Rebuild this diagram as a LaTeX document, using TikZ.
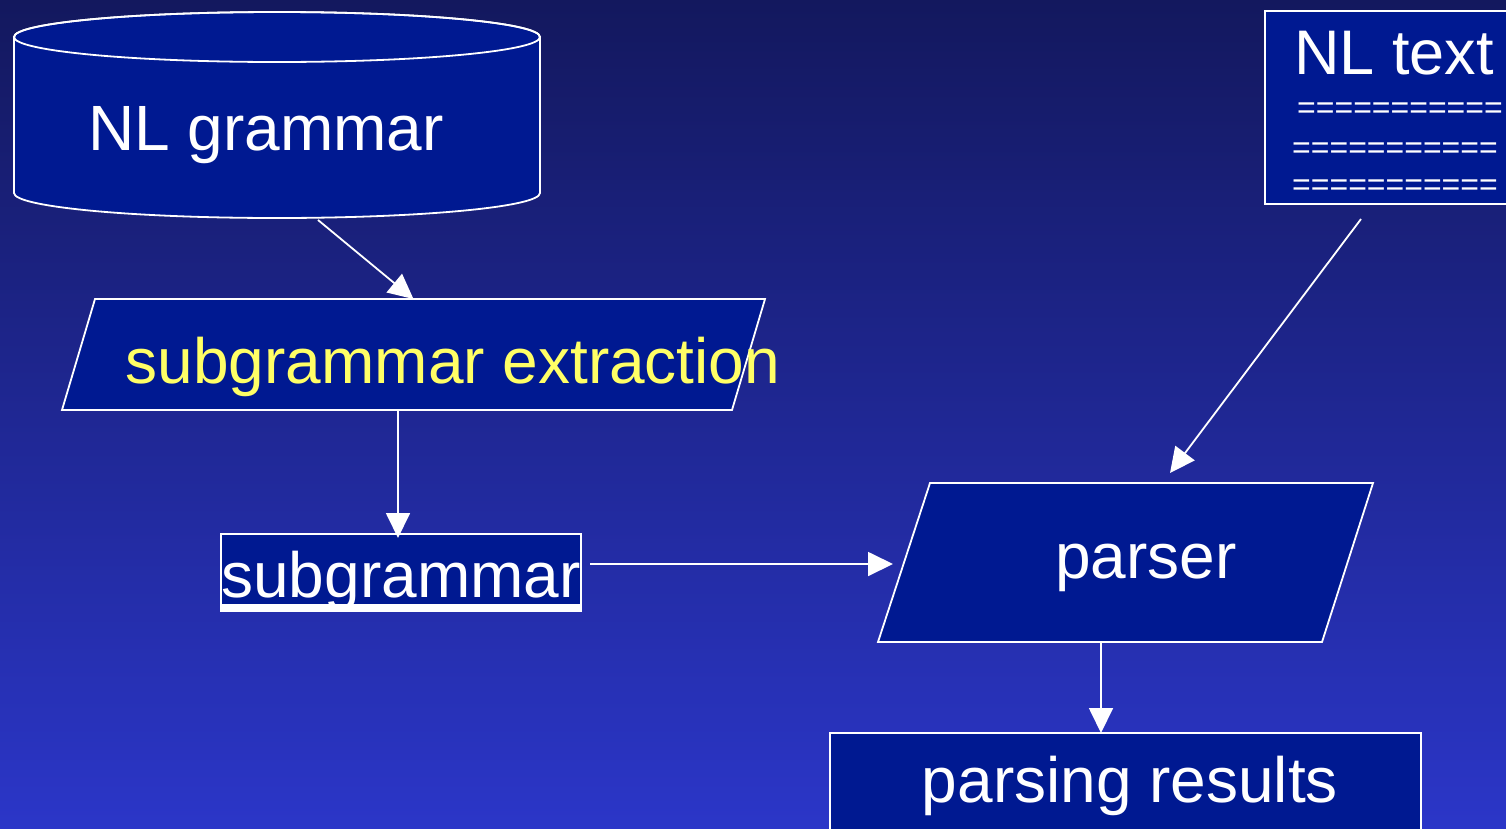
\documentclass[tikz,border=0pt]{standalone}
\usepackage{fontspec}
\setmainfont{Liberation Sans}
\usetikzlibrary{arrows.meta,calc}
\definecolor{bgtop}{RGB}{19,24,94}
\definecolor{bgbot}{RGB}{43,54,200}
\definecolor{shapefill}{RGB}{0,25,145}
\definecolor{labelyellow}{RGB}{255,255,102}
\tikzset{
  shapeline/.style={draw=white, line width=1.8pt, fill=shapefill},
  area/.style={rectangle, inner sep=0pt, outer sep=0pt},
  lbl/.style={inner sep=0pt, anchor=base, text=white, font=\fontsize{64}{70}\selectfont},
  eqline/.style={inner sep=0pt, anchor=base west, text=white, font=\fontsize{32}{36}\selectfont},
  arr/.style={draw=white, line width=1.8pt, -{Triangle[length=25pt,width=24pt]}, shorten <=0pt}
}
\begin{document}
\begin{tikzpicture}[x=1pt,y=-1pt]
\useasboundingbox (0,0) rectangle (1506,828);
\shade[top color=bgtop, bottom color=bgbot] (0pt,0pt) rectangle (1506pt,-828pt);
\clip (0,0) rectangle (1506,828);

% NL grammar (cylinder)
\path[shapeline] (14,37) -- (14,193) arc[start angle=180, end angle=0, x radius=263, y radius=25]
  -- (540,37) arc[start angle=0, end angle=-180, x radius=263, y radius=25] -- cycle;
\draw[white, line width=1.8pt] (277,37) ellipse[x radius=263, y radius=25];
\node[area, minimum width=526pt, minimum height=206pt] (grammar) at (277,115) {};
\node[lbl] (grammartxt) at (266,150) {NL grammar};

% subgrammar extraction (parallelogram)
\path[shapeline] (95,299) -- (765,299) -- (732,410) -- (62,410) -- cycle;
\node[area, minimum width=703pt, minimum height=111pt] (extract) at (413.5,354.5) {};
\node[lbl, text=labelyellow] (extracttxt) at (453,383) {subgrammar extraction};

% subgrammar box
\node[area, shapeline, minimum width=360pt, minimum height=77pt] (sub) at (401,572.5) {};
\fill[white] (222,604) rectangle (580,611);
\node[lbl] (subtxt) at (401,597) {subgrammar};

% NL text box
\node[area, shapeline, minimum width=275pt, minimum height=193pt] (nl) at (1402.5,107.5) {};
\node[lbl, font=\fontsize{63}{70}\selectfont] (nltxt) at (1394,74) {NL text};
\node[eqline] (eq1) at (1297,118) {===========};
\node[eqline] (eq2) at (1292,158) {===========};
\node[eqline] (eq3) at (1292,195) {===========};

% parser (parallelogram)
\path[shapeline] (930,483) -- (1373,483) -- (1322,642) -- (878,642) -- cycle;
\node[area, minimum width=495pt, minimum height=159pt] (parser) at (1125.5,562.5) {};
\node[lbl] (parsertxt) at (1146,578) {parser};

% parsing results box
\node[area, shapeline, minimum width=591pt, minimum height=117pt] (res) at (1125.5,791.5) {};
\node[lbl] (restxt) at (1130,802) {parsing results};

% connectors
\draw[arr] ($(grammar.south)+(41,2)$) -- (extract.north);
\draw[arr] (extract.south -| 398,0) -- ($(sub.north -| 398,0)+(0,4)$);
\draw[arr] ($(sub.east)+(9,-8.5)$) -- ($(parser.west)+(15,1.5)$);
\draw[arr] ($(nl.south -| 1361,0)+(0,15)$) -- ($(parser.north -| 1170,0)+(0,-10)$);
\draw[arr] (parser.south -| 1101,0) -- (res.north -| 1101,0);
\end{tikzpicture}
\end{document}
